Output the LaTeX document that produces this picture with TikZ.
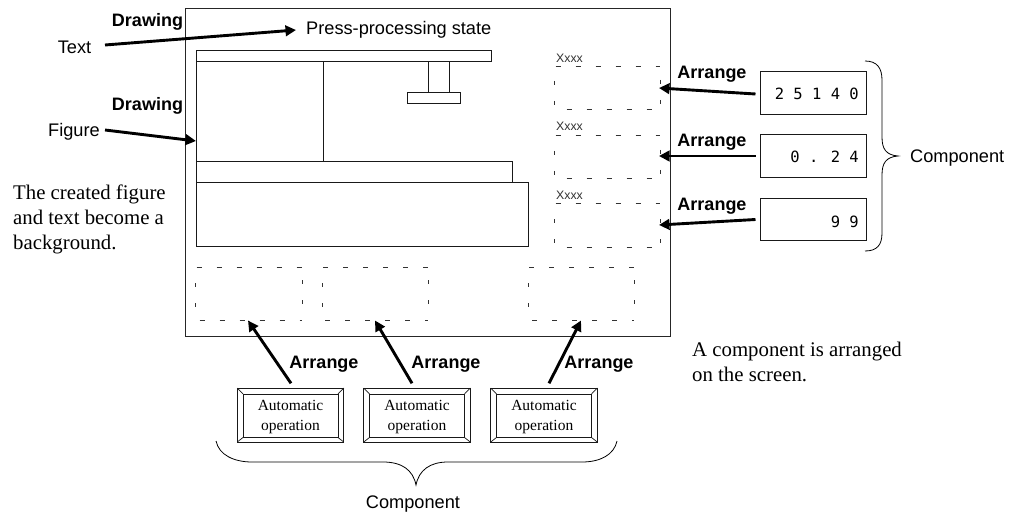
\documentclass[tikz,border=0pt]{standalone}
\usepackage{fontspec}
\setmainfont{Liberation Serif}
\setsansfont{Liberation Sans}
\newfontfamily\monofont{DejaVu Sans Mono}
\usetikzlibrary{arrows.meta}
\tikzset{
 x=1pt,y=-1pt,
 frameline/.style={draw=black!85,line width=1pt},
 thinline/.style={draw=black!90,line width=1pt},
 dots/.style={draw=black!80,line width=0.7pt},
 fat/.style={draw=black,line width=2.9pt,-{Triangle[length=10.5pt,width=10.5pt]}},
 lab/.style={font=\sffamily\fontsize{18.2}{20}\selectfont,inner sep=0pt},
 blab/.style={font=\sffamily\bfseries\fontsize{18}{20}\selectfont,inner sep=0pt},
 ser/.style={font=\rmfamily\fontsize{20.8}{25}\selectfont,inner sep=0pt,align=left},
 btn/.style={font=\rmfamily\fontsize{15.5}{20}\selectfont,inner sep=0pt,align=center},
 num/.style={font=\monofont\fontsize{15.5}{18}\selectfont,inner sep=0pt,anchor=east},
 xx/.style={font=\sffamily\fontsize{12.3}{14}\selectfont,inner sep=0pt,text=black!80},
 brace/.style={draw=black,line width=0.8pt},
 numbox/.style={draw=black!90,line width=1pt,minimum width=106pt,minimum height=42.5pt,inner sep=0pt},
}
% #1 left, #2 top, #3 right, #4 bottom, #5 offset of bottom dashes, #6 first tick y left, #7 first tick y right
\newcommand{\dotbox}[7]{%
 \draw[dots,dash pattern=on 5pt off 15pt] (#1+1,#2) -- (#3,#2);
 \draw[dots,dash pattern=on 5pt off 15pt] (#1+#5,#4) -- (#3,#4);
 \draw[dots] (#1,#6) -- ++(0,4) (#1,#6+20) -- ++(0,4);
 \draw[dots] (#3,#7) -- ++(0,4) (#3,#7+20) -- ++(0,4);
}
\newcommand{\autobtn}[2]{%
 \node[draw=none,minimum width=106.5pt,minimum height=54pt,inner sep=0pt] (#2) at (#1,415) {};
 \draw[thinline] (#1-53.25,388) rectangle (#1+53.25,442);
 \draw[thinline] (#1-47.5,394) rectangle (#1+47.5,437.5);
 \draw[thinline,line width=0.7pt] (#1-53.25,388) -- (#1-47.5,394) (#1+53.25,388) -- (#1+47.5,394) (#1-53.25,442) -- (#1-47.5,437.5) (#1+53.25,442) -- (#1+47.5,437.5);
 \node[btn] at (#1,417) {Automatic\\operation};
}
\begin{document}
\begin{tikzpicture}
\useasboundingbox[fill=white] (0,0) rectangle (1018,516);
% frame
\draw[frameline] (185,9) rectangle (670.5,336);
% machine
\draw[thinline] (196,51) rectangle (491,62);
\draw[thinline] (196,62) rectangle (323,162);
\draw[thinline] (196,162) rectangle (512,183);
\draw[thinline] (196,183) rectangle (528.5,246);
\draw[thinline] (428,62) rectangle (449,93);
\draw[thinline] (407,93) rectangle (460,104);
% dotted boxes
\dotbox{554.5}{66}{660}{109}{12}{81}{80}
\dotbox{554.5}{135}{660}{178}{12}{151}{150}
\dotbox{554.5}{203}{660}{247}{12}{219}{219}
\dotbox{195.5}{267}{302}{320}{4}{283}{280}
\dotbox{322}{267}{428}{320}{3}{283}{280}
\dotbox{528}{267}{634}{320}{4}{283}{280}
\node[xx] (x1) at (569.5,58) {Xxxx};
\node[xx] (x2) at (569.5,126) {Xxxx};
\node[xx] (x3) at (569.5,195) {Xxxx};
% left texts
\node[blab] (d1) at (147.5,22) {Drawing};
\node[blab] (d2) at (147.5,106) {Drawing};
\node[lab] (t) at (74.5,47) {Text};
\node[lab] (f) at (74,132) {Figure};
\node[lab,anchor=west] (press) at (306,30) {Press-processing state};
\node[ser,anchor=north west] (note1) at (13,185) {The created figure\\and text become a\\background.};
\node[ser,anchor=north west] (note2) at (692,342) {A component is arranged\\on the screen.};
\coordinate (tt) at (105,45);
\coordinate (ff) at (105,130);
\coordinate (ftip) at (196,141);
\draw[fat] (tt) -- ([xshift=-10pt]press.west);
\draw[fat] (ff) -- (ftip);
% number boxes
\node[numbox] (n1) at (813,93) {};
\node[numbox] (n2) at (813,156) {};
\node[numbox] (n3) at (813,219.5) {};
\node[num] at (859,94) {2 5 1 4 0};
\node[num] at (859,157) {0 . 2 4};
\node[num] at (859,222) {9 9};
\coordinate (b1) at (659,88);
\coordinate (b2) at (659,156);
\coordinate (b3) at (659,225);
\draw[fat] ([xshift=-4pt,yshift=-1pt]n1.west) -- (b1);
\draw[fat] ([xshift=-4pt]n2.west) -- (b2);
\draw[fat] ([xshift=-4pt]n3.west) -- (b3);
\node[blab] (a1) at (712,74) {Arrange};
\node[blab] (a2) at (712,142) {Arrange};
\node[blab] (a3) at (712,206) {Arrange};
% right brace
\draw[brace] (865,61) .. controls (877,61) and (882,68) .. (882,80) -- (882,137) .. controls (882,149) and (886,155) .. (898,156) .. controls (886,157) and (882,163) .. (882,175) -- (882,233) .. controls (882,245) and (877,251) .. (865,251);
\node[lab,anchor=west] (c1) at (910,158) {Component};
% buttons
\autobtn{290.5}{s1}
\autobtn{417}{s2}
\autobtn{544}{s3}
\coordinate (u1) at (248,320.5);
\coordinate (u2) at (375,320.5);
\coordinate (u3) at (581,320.5);
\draw[fat] ([xshift=0.5pt,yshift=4.5pt]s1.north) -- (u1);
\draw[fat] ([xshift=-5pt,yshift=4.5pt]s2.north) -- (u2);
\draw[fat] ([xshift=5pt,yshift=4.5pt]s3.north) -- (u3);
\node[blab] (a4) at (324,364) {Arrange};
\node[blab] (a5) at (446,364) {Arrange};
\node[blab] (a6) at (599,364) {Arrange};
% bottom brace
\draw[brace] (216,441) .. controls (219,455) and (234,462) .. (252,462) -- (383,462) .. controls (402,462) and (413,470) .. (416,485) .. controls (419,470) and (430,462) .. (448,462) -- (582,462) .. controls (600,462) and (614,455) .. (617,441);
\node[lab] (c2) at (413,504) {Component};
\end{tikzpicture}
\end{document}
